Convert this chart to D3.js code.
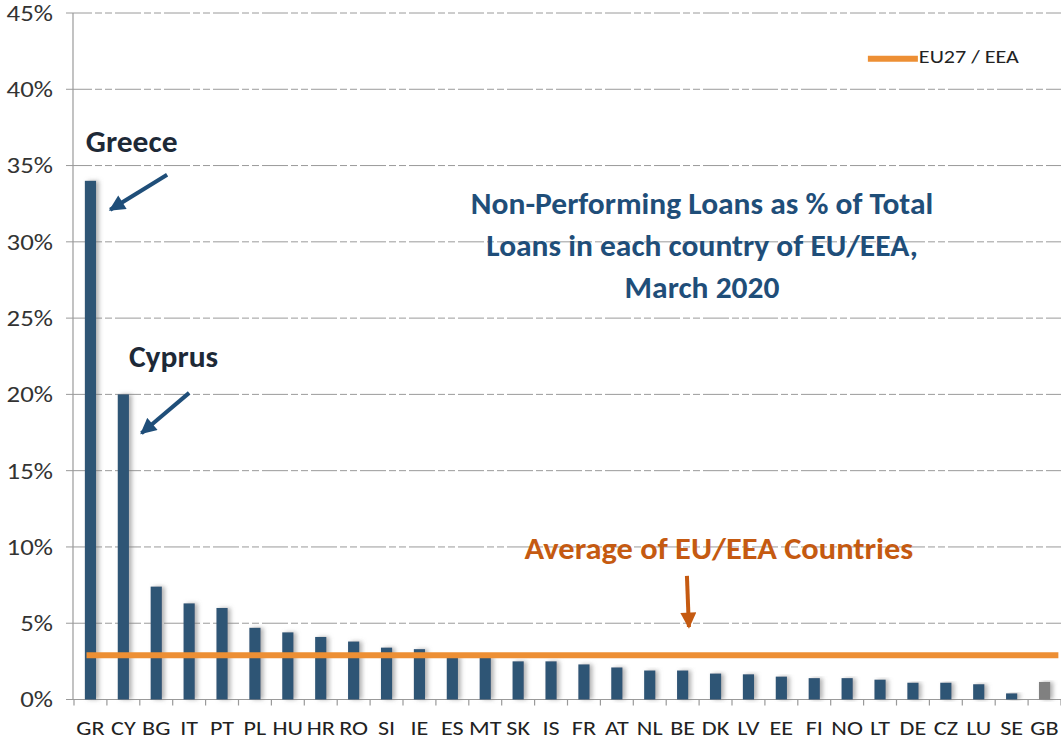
<html>
<head>
<meta charset="utf-8">
<script src="https://cdn.jsdelivr.net/npm/d3@7/dist/d3.min.js"></script>
<style>
body { margin: 0; background: #fff; }
svg text { font-family: Calibri, Carlito, Lato, sans-serif; }
</style>
</head>
<body>
<svg id="chart" width="1061" height="740"></svg>
<script>
// data
var countries = ["GR","CY","BG","IT","PT","PL","HU","HR","RO","SI","IE","ES","MT","SK","IS",
                 "FR","AT","NL","BE","DK","LV","EE","FI","NO","LT","DE","CZ","LU","SE","GB"];
var nplRatio = [34.0, 20.0, 7.4, 6.3, 6.0, 4.7, 4.4, 4.1, 3.8, 3.4, 3.3, 2.8, 2.8, 2.5, 2.5,
                2.3, 2.1, 1.9, 1.9, 1.7, 1.65, 1.5, 1.4, 1.4, 1.3, 1.1, 1.1, 1.0, 0.4, 1.15];
var euAverage = 2.9;
var yTicks = [0, 5, 10, 15, 20, 25, 30, 35, 40, 45];
var titleLines = ["Non-Performing Loans as % of Total", "Loans in each country of EU/EEA,", "March 2020"];
var legendLabel = "EU27 / EEA";

var svg = d3.select("#chart"),
    margin = {top: 13, left: 74, bottom: 40.5, right: 0},
    width = +svg.attr("width") - margin.left - margin.right,
    height = +svg.attr("height") - margin.top - margin.bottom;

var barColor = "#2f5475", gbColor = "#808080", avgColor = "#ed8f34",
    annoBlue = "#1f4e79", annoOrange = "#c55a11", gridColor = "#9a9a9a";

var x = d3.scaleBand().domain(countries).range([margin.left, margin.left + width]).paddingInner(0.66).paddingOuter(0.33);
var xi = d3.scaleLinear().domain([0, countries.length]).range([margin.left, margin.left + width]); // category index units
var y = d3.scaleLinear().domain([0, 45]).range([margin.top + height, margin.top]);

var defs = svg.append("defs");
defs.append("filter").attr("id", "shadow").attr("x", "-50%").attr("width", "250%")
  .append("feDropShadow").attr("dx", 3).attr("dy", 0).attr("stdDeviation", 2)
  .attr("flood-color", "#777").attr("flood-opacity", 0.55);
function arrowMarker(id, color) {
  defs.append("marker").attr("id", id)
    .attr("viewBox", "0 0 10 10").attr("refX", 9).attr("refY", 5)
    .attr("markerUnits", "userSpaceOnUse").attr("markerWidth", 17).attr("markerHeight", 16)
    .attr("orient", "auto")
    .append("path").attr("d", "M0,0 L10,5 L0,10 Z").attr("fill", color);
}
arrowMarker("arrBlue", annoBlue);
arrowMarker("arrOrange", annoOrange);

// widen glyphs a bit (the original font is wider than Lato for its height)
function widen(sel, k) {
  sel.each(function() {
    var len = this.getComputedTextLength();
    d3.select(this).attr("textLength", len * k).attr("lengthAdjust", "spacingAndGlyphs");
  });
}

// gridlines
svg.append("g").selectAll("line").data(yTicks.filter(function(d){ return d > 0; })).enter().append("line")
  .attr("x1", margin.left - 8).attr("x2", margin.left + width)
  .attr("y1", function(d){ return y(d); }).attr("y2", function(d){ return y(d); })
  .attr("stroke", gridColor).attr("stroke-width", 1)
  .attr("stroke-dasharray", "26,3,7,3,7,3");

// axes lines
svg.append("line").attr("x1", margin.left - 1).attr("x2", margin.left - 1)
  .attr("y1", y(45)).attr("y2", y(0)).attr("stroke", gridColor).attr("stroke-width", 1.2);
svg.append("line").attr("x1", margin.left - 8).attr("x2", margin.left + width)
  .attr("y1", y(0)).attr("y2", y(0)).attr("stroke", gridColor).attr("stroke-width", 1.2);
svg.append("g").selectAll("line").data(d3.range(countries.length + 1)).enter().append("line")
  .attr("x1", function(d){ return xi(d); }).attr("x2", function(d){ return xi(d); })
  .attr("y1", y(0)).attr("y2", y(0) + 6).attr("stroke", gridColor).attr("stroke-width", 1.2);

// y axis labels (plain text at the tick values)
svg.append("g").attr("class", "y-labels").selectAll("text").data(yTicks).enter().append("text")
  .attr("x", margin.left - 21).attr("y", function(d){ return y(d); })
  .attr("dy", "0.36em").attr("text-anchor", "end")
  .style("font-size", "22px").attr("fill", "#333")
  .text(function(d){ return d + "%"; })
  .call(widen, 1.22);

// x axis labels
svg.append("g").attr("class", "x-labels").selectAll("text").data(countries).enter().append("text")
  .attr("x", function(d){ return x(d) + x.bandwidth() / 2; })
  .attr("y", y(0) + 35)
  .attr("text-anchor", "middle")
  .style("font-size", "21px").attr("fill", "#222")
  .text(function(d){ return d; })
  .call(widen, 1.15);

// bars
svg.append("g").selectAll("rect").data(countries).enter().append("rect")
  .attr("x", function(d){ return x(d); })
  .attr("y", function(d, i){ return y(nplRatio[i]); })
  .attr("width", x.bandwidth())
  .attr("height", function(d, i){ return y(0) - y(nplRatio[i]); })
  .attr("fill", function(d){ return d === "GB" ? gbColor : barColor; })
  .attr("filter", "url(#shadow)");

// EU average line
svg.append("line")
  .attr("x1", xi(0.38)).attr("x2", xi(29.92))
  .attr("y1", y(euAverage)).attr("y2", y(euAverage))
  .attr("stroke", avgColor).attr("stroke-width", 6);

// legend
svg.append("line").attr("x1", xi(24.13)).attr("x2", xi(25.65))
  .attr("y1", y(42.0)).attr("y2", y(42.0)).attr("stroke", avgColor).attr("stroke-width", 6);
svg.append("text").attr("x", xi(25.68)).attr("y", y(41.7)).text(legendLabel)
  .style("font-size", "18px").attr("fill", "#222")
  .attr("textLength", 100).attr("lengthAdjust", "spacingAndGlyphs");

// title
svg.append("g").selectAll("text").data(titleLines).enter().append("text")
  .attr("x", xi(19.09))
  .attr("y", function(d, i){ return y([31.8, 29.05, 26.35][i]); })
  .attr("text-anchor", "middle").style("font-size", "30px").attr("font-weight", "bold")
  .attr("fill", annoBlue)
  .text(function(d){ return d; })
  .call(widen, 1.05);

// annotations
svg.append("text").attr("x", xi(0.36)).attr("y", y(35.9)).text("Greece")
  .style("font-size", "30px").attr("font-weight", "bold").attr("fill", "#1d2937")
  .call(widen, 1.05);
svg.append("text").attr("x", xi(1.67)).attr("y", y(21.8)).text("Cyprus")
  .style("font-size", "30px").attr("font-weight", "bold").attr("fill", "#1d2937")
  .call(widen, 1.05);
svg.append("text").attr("x", xi(19.6)).attr("y", y(9.2)).text("Average of EU/EEA Countries")
  .attr("text-anchor", "middle").style("font-size", "30px").attr("font-weight", "bold").attr("fill", annoOrange)
  .call(widen, 1.08);

function arrow(x1, v1, x2, v2, color, marker) {
  svg.append("line")
    .attr("x1", xi(x1)).attr("y1", y(v1)).attr("x2", xi(x2)).attr("y2", y(v2))
    .attr("stroke", color).attr("stroke-width", 4)
    .attr("marker-end", "url(#" + marker + ")");
}
arrow(2.83, 34.4, 1.1, 32.1, annoBlue, "arrBlue");
arrow(3.5, 20.1, 2.05, 17.45, annoBlue, "arrBlue");
arrow(18.63, 8.1, 18.69, 4.75, annoOrange, "arrOrange");
</script>
</body>
</html>
